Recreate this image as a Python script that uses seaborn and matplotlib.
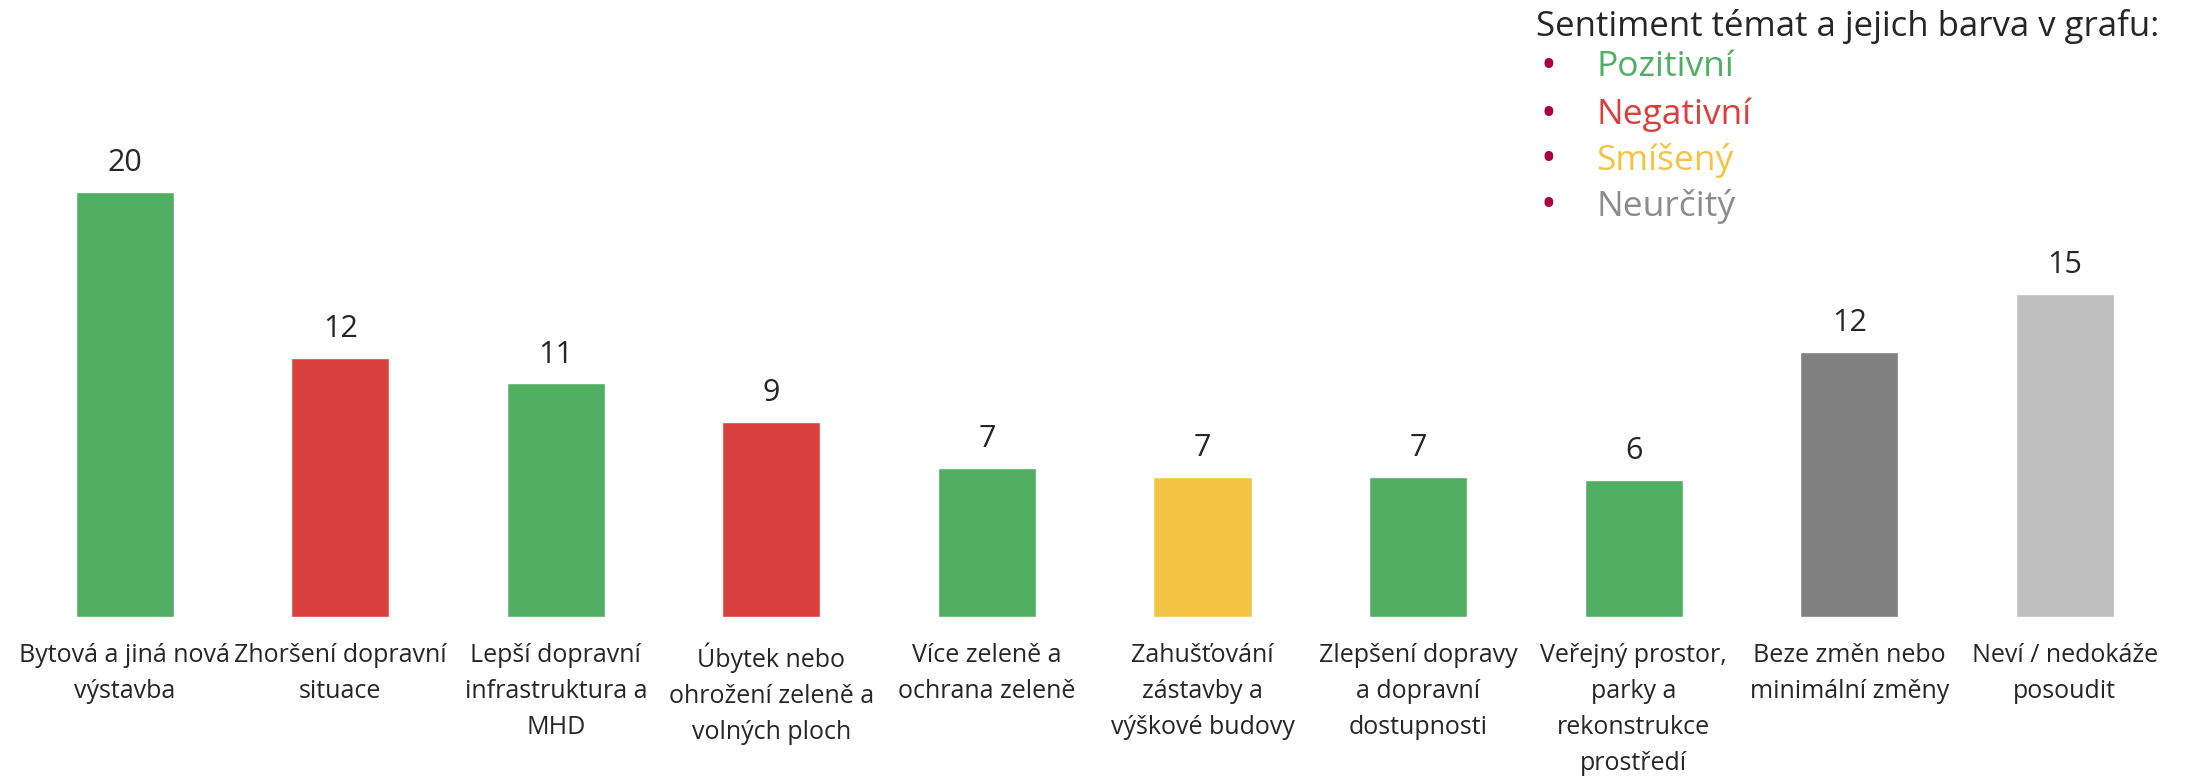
import matplotlib
matplotlib.use("Agg")
import matplotlib.pyplot as plt
import seaborn as sns
import pandas as pd

categories = [
    "Bytová a jiná nová\nvýstavba",
    "Zhoršení dopravní\nsituace",
    "Lepší dopravní\ninfrastruktura a\nMHD",
    "Úbytek nebo\nohrožení zeleně a\nvolných ploch",
    "Více zeleně a\nochrana zeleně",
    "Zahušťování\nzástavby a\nvýškové budovy",
    "Zlepšení dopravy\na dopravní\ndostupnosti",
    "Veřejný prostor,\nparky a\nrekonstrukce\nprostředí",
    "Beze změn nebo\nminimální změny",
    "Neví / nedokáže\nposoudit",
]
values = [20.0, 12.2, 11.0, 9.2, 7.0, 6.6, 6.6, 6.45, 12.5, 15.2]
value_labels = ["20", "12", "11", "9", "7", "7", "7", "6", "12", "15"]
bar_colors = ["#52AE63", "#D9403D", "#52AE63", "#D9403D", "#52AE63",
              "#F3C443", "#52AE63", "#52AE63", "#808080", "#BFBFBF"]

legend_title = "Sentiment témat a jejich barva v grafu:"
legend_items = ["Pozitivní", "Negativní", "Smíšený", "Neurčitý"]
legend_colors = ["#52AE63", "#D9403D", "#F3C443", "#8C8C8C"]

sns.set_style("white")
plt.rcParams["font.family"] = ["Open Sans", "DejaVu Sans"]

fig = plt.figure(figsize=(21.93, 7.77), dpi=100)
ax = fig.add_axes([0.0077, 0.206, 0.983, 0.794])

df = pd.DataFrame({"cat": categories, "val": values})
sns.barplot(data=df, x="cat", y="val", hue="cat", palette=bar_colors,
            legend=False, width=0.455, saturation=1, ax=ax)

ax.set_xlim(-0.5, 9.5)
ax.set_ylim(0, 617 / 21.23)
for i, (v, lab) in enumerate(zip(values, value_labels)):
    ax.annotate(lab, (i, v), xytext=(0, 10), textcoords="offset points",
                ha="center", va="bottom", fontsize=22, color="#262626")

ax.set_xlabel("")
ax.set_ylabel("")
ax.set_yticks([])
ax.tick_params(axis="x", length=0, pad=18.5)
for t in ax.get_xticklabels():
    t.set_fontsize(18)
    t.set_color("#262626")
    t.set_verticalalignment("top")
    t.set_linespacing(1.58)
for s in ax.spines.values():
    s.set_visible(False)

fig.text(1536 / 2193, 1 - 27 / 777, legend_title, fontsize=25,
         color="#262626", ha="left", va="center")
ys = [67, 115, 160, 206]
for name, col, y in zip(legend_items, legend_colors, ys):
    fig.text(1540 / 2193, 1 - y / 777, "•", fontsize=30, color="#A50044",
             ha="left", va="center")
    fig.text(1596 / 2193, 1 - y / 777, name, fontsize=25.5, color=col,
             ha="left", va="center")

fig.savefig("out.png", dpi=100)
